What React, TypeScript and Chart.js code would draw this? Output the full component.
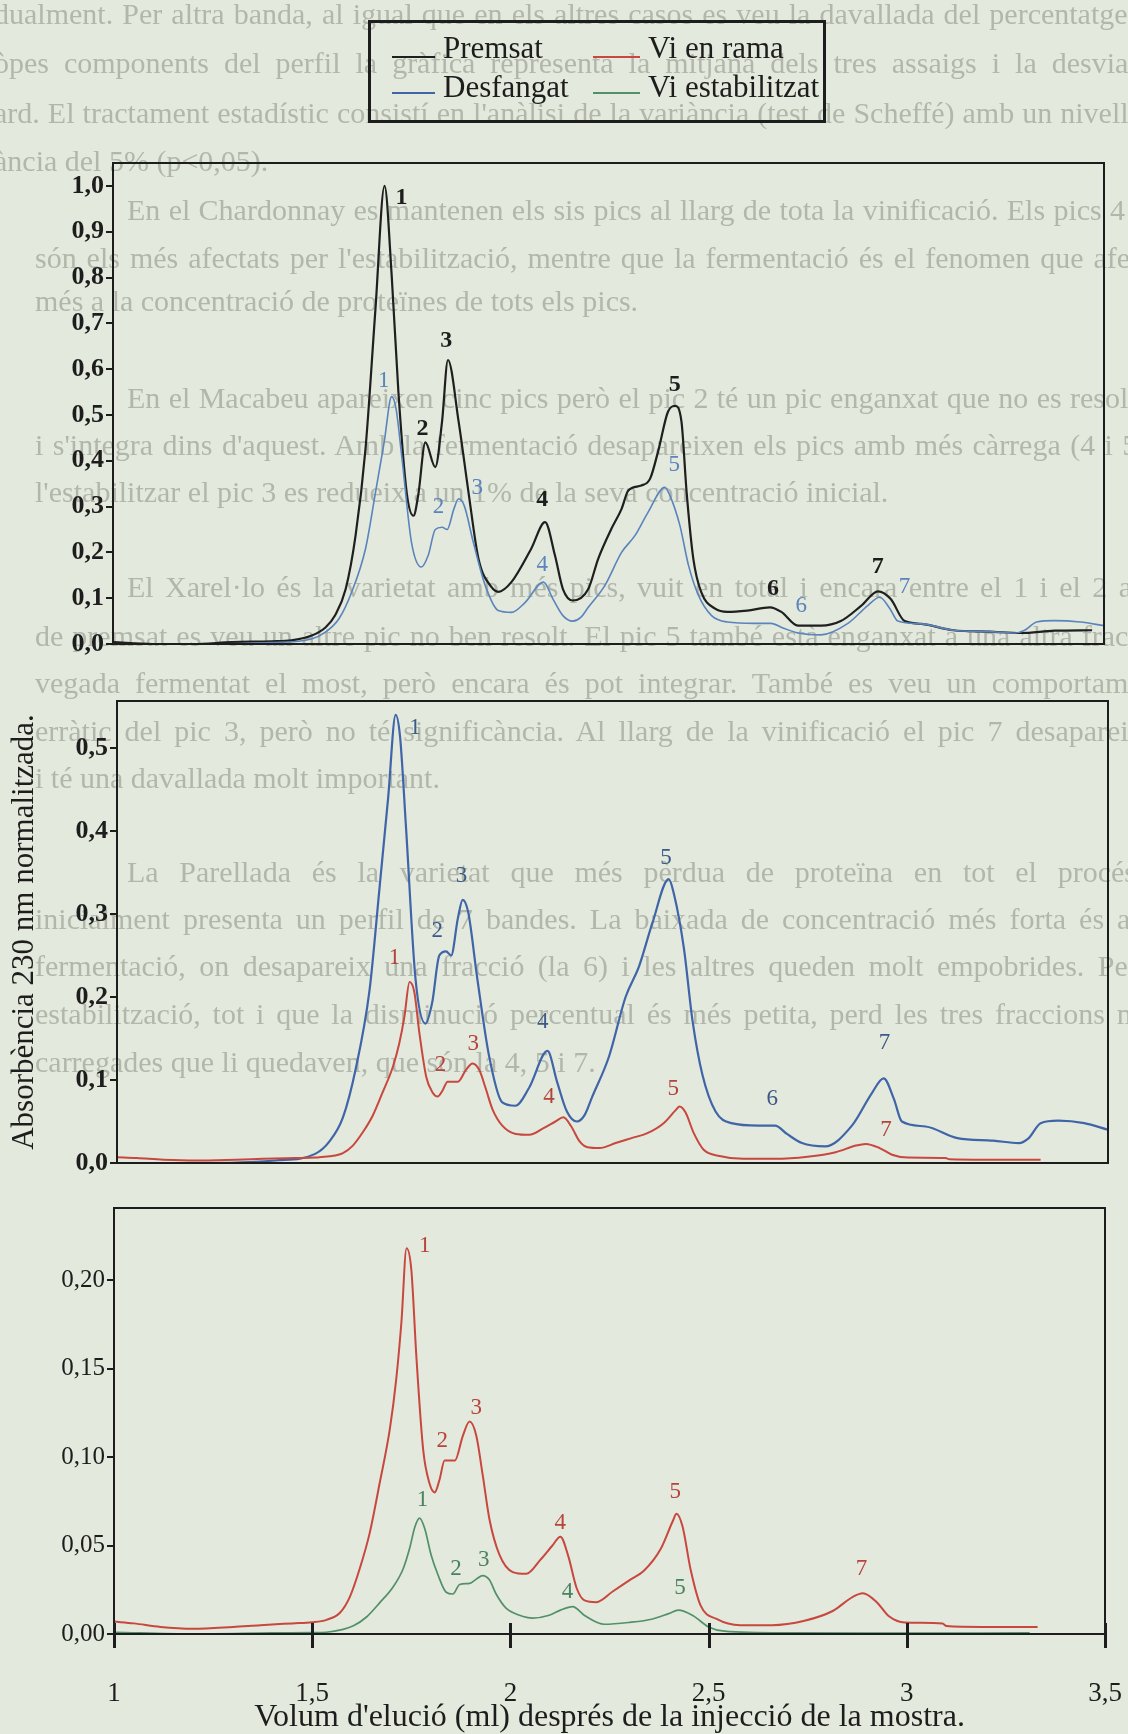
import { useEffect, useRef } from "react";
import { Chart, registerables } from "chart.js";

Chart.register(...registerables);

// Elution volume (ml) and normalised absorbance at 230 nm for each stage.
const premsatX = [1.0, 1.1, 1.2, 1.3, 1.4, 1.45, 1.5, 1.536, 1.56, 1.587, 1.612, 1.637, 1.662, 1.685, 1.703, 1.72, 1.741, 1.758, 1.77, 1.788, 1.813, 1.83, 1.845, 1.872, 1.897, 1.922, 1.955, 1.972, 2.005, 2.055, 2.09, 2.115, 2.135, 2.16, 2.199, 2.224, 2.257, 2.283, 2.3, 2.333, 2.355, 2.375, 2.4, 2.418, 2.434, 2.447, 2.464, 2.484, 2.519, 2.55, 2.6, 2.657, 2.686, 2.728, 2.786, 2.836, 2.887, 2.93, 2.962, 2.997, 3.04, 3.12, 3.21, 3.29, 3.375, 3.47];
const premsatY = [0.004, 0.0, 0.0, 0.004, 0.006, 0.008, 0.018, 0.036, 0.062, 0.12, 0.237, 0.426, 0.73, 1.0, 0.805, 0.55, 0.33, 0.28, 0.325, 0.44, 0.386, 0.485, 0.62, 0.485, 0.33, 0.186, 0.124, 0.114, 0.135, 0.208, 0.266, 0.193, 0.12, 0.095, 0.12, 0.186, 0.251, 0.295, 0.335, 0.346, 0.361, 0.42, 0.507, 0.52, 0.486, 0.332, 0.186, 0.113, 0.077, 0.07, 0.073, 0.08, 0.07, 0.04, 0.04, 0.05, 0.083, 0.115, 0.098, 0.05, 0.044, 0.03, 0.027, 0.024, 0.029, 0.03];

const desfangatX = [1.0, 1.2, 1.4, 1.5, 1.536, 1.57, 1.602, 1.637, 1.662, 1.684, 1.703, 1.714, 1.729, 1.753, 1.778, 1.795, 1.813, 1.83, 1.843, 1.86, 1.872, 1.886, 1.909, 1.939, 1.972, 2.005, 2.04, 2.086, 2.11, 2.135, 2.16, 2.18, 2.199, 2.241, 2.283, 2.317, 2.35, 2.392, 2.405, 2.43, 2.452, 2.477, 2.51, 2.55, 2.619, 2.66, 2.69, 2.728, 2.786, 2.854, 2.904, 2.934, 2.96, 2.98, 3.04, 3.12, 3.21, 3.275, 3.3, 3.33, 3.375, 3.44, 3.5];
const desfangatY = [0.0, 0.0, 0.003, 0.011, 0.026, 0.055, 0.113, 0.208, 0.33, 0.44, 0.54, 0.514, 0.405, 0.222, 0.168, 0.193, 0.25, 0.255, 0.25, 0.295, 0.317, 0.302, 0.222, 0.128, 0.073, 0.069, 0.091, 0.135, 0.098, 0.062, 0.05, 0.058, 0.08, 0.128, 0.2, 0.237, 0.288, 0.342, 0.324, 0.259, 0.171, 0.106, 0.062, 0.048, 0.045, 0.045, 0.035, 0.024, 0.02, 0.045, 0.084, 0.102, 0.077, 0.05, 0.044, 0.03, 0.027, 0.024, 0.03, 0.048, 0.051, 0.048, 0.04];

const viRamaX = [1.0, 1.05, 1.117, 1.2, 1.3, 1.369, 1.45, 1.5, 1.536, 1.57, 1.595, 1.62, 1.645, 1.67, 1.696, 1.712, 1.725, 1.738, 1.75, 1.763, 1.78, 1.796, 1.809, 1.821, 1.834, 1.86, 1.88, 1.897, 1.914, 1.93, 1.947, 1.972, 2.006, 2.04, 2.076, 2.106, 2.126, 2.146, 2.167, 2.187, 2.217, 2.258, 2.298, 2.338, 2.379, 2.41, 2.419, 2.434, 2.455, 2.48, 2.52, 2.58, 2.66, 2.742, 2.813, 2.864, 2.889, 2.924, 2.955, 2.995, 3.09, 3.1, 3.19, 3.33];
const viRamaY = [0.007, 0.006, 0.004, 0.003, 0.004, 0.005, 0.006, 0.0066, 0.008, 0.012, 0.021, 0.037, 0.057, 0.085, 0.116, 0.144, 0.176, 0.218, 0.206, 0.156, 0.104, 0.085, 0.08, 0.087, 0.098, 0.098, 0.112, 0.12, 0.112, 0.09, 0.065, 0.045, 0.035, 0.034, 0.042, 0.05, 0.055, 0.044, 0.026, 0.019, 0.018, 0.024, 0.03, 0.036, 0.048, 0.064, 0.068, 0.061, 0.036, 0.016, 0.0085, 0.005, 0.005, 0.0075, 0.013, 0.021, 0.023, 0.018, 0.01, 0.0065, 0.006, 0.0045, 0.004, 0.004];

const viEstabX = [1.0, 1.2, 1.4, 1.5, 1.536, 1.578, 1.604, 1.637, 1.67, 1.704, 1.729, 1.746, 1.759, 1.771, 1.784, 1.8, 1.817, 1.838, 1.855, 1.872, 1.897, 1.914, 1.93, 1.947, 1.964, 1.989, 2.023, 2.056, 2.098, 2.126, 2.157, 2.187, 2.237, 2.298, 2.359, 2.399, 2.424, 2.46, 2.5, 2.54, 2.7, 3.0, 3.31];
const viEstabY = [0.001, 0.0, 0.0006, 0.0008, 0.001, 0.0026, 0.0046, 0.0096, 0.0176, 0.0266, 0.0366, 0.0486, 0.0605, 0.0655, 0.0595, 0.0446, 0.0336, 0.0236, 0.0226, 0.028, 0.0286, 0.031, 0.033, 0.0306, 0.0226, 0.0146, 0.0106, 0.009, 0.0106, 0.0135, 0.0155, 0.0105, 0.0055, 0.0065, 0.0085, 0.0115, 0.0135, 0.0105, 0.004, 0.0016, 0.0006, 0.0005, 0.0006];

// Peak numbering, anchored in data units (ml, absorbance).
const allPeaks = ["1", "2", "3", "4", "5", "6", "7"];
const premsatPeakX = [1.728, 1.781, 1.841, 2.083, 2.417, 2.665, 2.929];
const premsatPeakY = [0.974, 0.469, 0.661, 0.314, 0.565, 0.121, 0.168];
const desfangatPeakX1 = [1.683, 1.821, 1.919, 2.083, 2.416, 2.736, 2.997];
const desfangatPeakY1 = [0.574, 0.299, 0.34, 0.172, 0.39, 0.084, 0.124];
const desfangatPeakX2 = [1.752, 1.808, 1.869, 2.074, 2.385, 2.653, 2.936];
const desfangatPeakY2 = [0.524, 0.28, 0.346, 0.17, 0.368, 0.077, 0.145];
const viRamaPeaks = ["1", "2", "3", "4", "5", "7"];
const viRamaPeakX2 = [1.7, 1.816, 1.899, 2.09, 2.403, 2.94];
const viRamaPeakY2 = [0.247, 0.118, 0.143, 0.079, 0.089, 0.04];
const viRamaPeakX3 = [1.784, 1.828, 1.914, 2.126, 2.416, 2.886];
const viRamaPeakY3 = [0.219, 0.109, 0.128, 0.063, 0.08, 0.0365];
const viEstabPeaks = ["1", "2", "3", "4", "5"];
const viEstabPeakX = [1.778, 1.863, 1.933, 2.144, 2.428];
const viEstabPeakY = [0.076, 0.037, 0.0416, 0.024, 0.026];

const legendNames = ["Premsat", "Vi en rama", "Desfangat", "Vi estabilitzat"];
const xTitle = "Volum d'elució (ml) després de la injecció de la mostra.";
const yTitle = "Absorbència 230 nm normalitzada.";

const SERIF = "'Liberation Serif', 'Times New Roman', serif";
const INK = "#1d1d1d";
const PAPER = "#e3e9dc";
const C_PREMSAT = "#1f1f1f";
const C_DESF_LIGHT = "#5a84bd";
const C_DESF = "#3f65a8";
const C_RAMA = "#c8473e";
const C_ESTAB = "#52906a";
const PAGE_W = 1128;

Chart.defaults.font.family = SERIF;

type Series = { x: number[]; y: number[]; color: string; width: number };
type PeakSet = { ids: string[]; x: number[]; y: number[]; color: string; font: string };
type Panel = {
  top: number;
  height: number;
  left: number;
  right: number;
  areaTop: number;
  areaBottom: number;
  yMax: number;
  yStep: number;
  yDigits: number;
  yFont: { size: number; weight: string };
  xAxis: boolean;
  yTitle: boolean;
  series: Series[];
  peaks: PeakSet[];
};

const PANELS: Panel[] = [
  {
    top: 140, height: 520, left: 113, right: 1104, areaTop: 163, areaBottom: 644,
    yMax: 1.05, yStep: 0.1, yDigits: 1, yFont: { size: 26, weight: "bold" },
    xAxis: false, yTitle: false,
    series: [
      { x: desfangatX, y: desfangatY, color: C_DESF_LIGHT, width: 1.6 },
      { x: premsatX, y: premsatY, color: C_PREMSAT, width: 2.2 },
    ],
    peaks: [
      { ids: allPeaks, x: premsatPeakX, y: premsatPeakY, color: INK, font: `bold 24px ${SERIF}` },
      { ids: allPeaks, x: desfangatPeakX1, y: desfangatPeakY1, color: C_DESF_LIGHT, font: `23px ${SERIF}` },
    ],
  },
  {
    top: 680, height: 500, left: 117, right: 1108, areaTop: 701, areaBottom: 1163,
    yMax: 0.5566, yStep: 0.1, yDigits: 1, yFont: { size: 26, weight: "bold" },
    xAxis: false, yTitle: true,
    series: [
      { x: viRamaX, y: viRamaY, color: C_RAMA, width: 2 },
      { x: desfangatX, y: desfangatY, color: C_DESF, width: 2.2 },
    ],
    peaks: [
      { ids: allPeaks, x: desfangatPeakX2, y: desfangatPeakY2, color: "#3d5a86", font: `23px ${SERIF}` },
      { ids: viRamaPeaks, x: viRamaPeakX2, y: viRamaPeakY2, color: "#b3433b", font: `23px ${SERIF}` },
    ],
  },
  {
    top: 1190, height: 544, left: 114, right: 1105, areaTop: 1208, areaBottom: 1634,
    yMax: 0.2407, yStep: 0.05, yDigits: 2, yFont: { size: 25, weight: "normal" },
    xAxis: true, yTitle: false,
    series: [
      { x: viEstabX, y: viEstabY, color: C_ESTAB, width: 1.7 },
      { x: viRamaX, y: viRamaY, color: C_RAMA, width: 2 },
    ],
    peaks: [
      { ids: viRamaPeaks, x: viRamaPeakX3, y: viRamaPeakY3, color: "#b9433a", font: `23px ${SERIF}` },
      { ids: viEstabPeaks, x: viEstabPeakX, y: viEstabPeakY, color: "#4a8160", font: `23px ${SERIF}` },
    ],
  },
];

// Faint page text behind the figure.
const pageLines: { t: string; x: number; y: number; j: boolean }[] = [
  { t: "dualment. Per altra banda, al igual que en els altres casos es veu la davallada del percentatge de proteïnes totals", x: -6, y: 14, j: true },
  { t: "òpes components del perfil la gràfica representa la mitjana dels tres assaigs i la desviació estàndard de cada", x: -6, y: 63, j: true },
  { t: "ard. El tractament estadístic consistí en l'anàlisi de la variància (test de Scheffé) amb un nivell de significació", x: -6, y: 113, j: true },
  { t: "ància del 5% (p<0,05).", x: -6, y: 161, j: false },
  { t: "En el Chardonnay es mantenen els sis pics al llarg de tota la vinificació. Els pics 4 i 5 són", x: 127, y: 210, j: true },
  { t: "són els més afectats per l'estabilització, mentre que la fermentació és el fenomen que afecta", x: 35, y: 258, j: true },
  { t: "més a la concentració de proteïnes de tots els pics.", x: 35, y: 301, j: false },
  { t: "En el Macabeu apareixen cinc pics però el pic 2 té un pic enganxat que no es resol bé", x: 127, y: 398, j: true },
  { t: "i s'integra dins d'aquest. Amb la fermentació desapareixen els pics amb més càrrega (4 i 5) i en", x: 35, y: 445, j: true },
  { t: "l'estabilitzar el pic 3 es redueix a un 1% de la seva concentració inicial.", x: 35, y: 492, j: false },
  { t: "El Xarel·lo és la varietat amb més pics, vuit en total i encara entre el 1 i el 2 a la mostra", x: 127, y: 587, j: true },
  { t: "de premsat es veu un altre pic no ben resolt. El pic 5 també està enganxat a una altra fracció", x: 35, y: 636, j: true },
  { t: "vegada fermentat el most, però encara és pot integrar. També es veu un comportament", x: 35, y: 683, j: true },
  { t: "erràtic del pic 3, però no té significància. Al llarg de la vinificació el pic 7 desapareix i", x: 35, y: 731, j: true },
  { t: "i té una davallada molt important.", x: 35, y: 778, j: false },
  { t: "La Parellada és la varietat que més pèrdua de proteïna en tot el procés i", x: 127, y: 872, j: true },
  { t: "inicialment presenta un perfil de 7 bandes. La baixada de concentració més forta és a la", x: 35, y: 919, j: true },
  { t: "fermentació, on desapareix una fracció (la 6) i les altres queden molt empobrides. Per l'", x: 35, y: 966, j: true },
  { t: "estabilització, tot i que la disminució percentual és més petita, perd les tres fraccions més", x: 35, y: 1014, j: true },
  { t: "carregades que li quedaven, que són la 4, 5 i 7.", x: 35, y: 1062, j: false },
];

const comma = (v: number, d: number) => v.toFixed(d).replace(".", ",");

function buildPanel(canvas: HTMLCanvasElement, p: Panel): Chart {
  const canvasBottom = p.top + p.height;

  // Box round the plotting area.
  const framePlugin = {
    id: "frame",
    afterDatasetsDraw(chart: Chart) {
      const { ctx, chartArea: a } = chart;
      ctx.save();
      ctx.strokeStyle = INK;
      ctx.lineWidth = 2;
      ctx.strokeRect(a.left, a.top, a.right - a.left, a.bottom - a.top);
      ctx.restore();
    },
  };

  // Peak numbers next to each trace.
  const peakPlugin = {
    id: "peakNumbers",
    afterDatasetsDraw(chart: Chart) {
      const { ctx } = chart;
      const xs = chart.scales.x;
      const ys = chart.scales.y;
      ctx.save();
      ctx.textAlign = "center";
      ctx.textBaseline = "middle";
      for (const set of p.peaks) {
        ctx.font = set.font;
        ctx.fillStyle = set.color;
        set.ids.forEach((id, i) => {
          ctx.fillText(id, xs.getPixelForValue(set.x[i]), ys.getPixelForValue(set.y[i]));
        });
      }
      ctx.restore();
    },
  };

  // Heavy tick marks crossing the elution-volume axis.
  const crossTicks = {
    id: "crossTicks",
    afterDraw(chart: Chart) {
      if (!p.xAxis) return;
      const { ctx, chartArea: a } = chart;
      const xs = chart.scales.x;
      ctx.save();
      ctx.strokeStyle = INK;
      ctx.lineWidth = 3;
      for (const t of xs.ticks) {
        const px = Math.round(xs.getPixelForValue(t.value)) + 0.5;
        ctx.beginPath();
        ctx.moveTo(px, a.bottom - 11);
        ctx.lineTo(px, a.bottom + 14);
        ctx.stroke();
      }
      ctx.restore();
    },
  };

  return new Chart(canvas, {
    type: "line",
    data: {
      datasets: p.series.map((s) => ({
        data: s.x.map((x, i) => ({ x, y: s.y[i] })),
        borderColor: s.color,
        borderWidth: s.width,
        pointRadius: 0,
        fill: false,
        cubicInterpolationMode: "monotone" as const,
      })),
    },
    options: {
      responsive: false,
      animation: false,
      devicePixelRatio: 1,
      layout: {
        autoPadding: false,
        padding: {
          left: 0,
          top: p.areaTop - p.top,
          right: PAGE_W - p.right,
          bottom: p.xAxis ? 0 : canvasBottom - p.areaBottom,
        },
      },
      plugins: { legend: { display: false }, tooltip: { enabled: false } },
      scales: {
        x: {
          type: "linear",
          min: 1,
          max: 3.5,
          display: p.xAxis,
          grid: { display: false, drawTicks: false },
          border: { display: false },
          ticks: {
            stepSize: 0.5,
            padding: 44,
            color: INK,
            maxRotation: 0,
            autoSkip: false,
            font: { family: SERIF, size: 27 },
            callback: (v: any) => comma(Number(v), Number(v) % 1 === 0 ? 0 : 1),
          },
          title: {
            display: p.xAxis,
            text: xTitle,
            color: INK,
            font: { family: SERIF, size: 32 },
            padding: { top: 0, bottom: -3 },
          },
          ...(p.xAxis
            ? {
                afterFit: (s: any) => {
                  s.height = canvasBottom - p.areaBottom;
                  s.paddingLeft = 0;
                  s.paddingRight = 0;
                },
              }
            : {}),
        },
        y: {
          type: "linear",
          min: 0,
          max: p.yMax,
          grid: { drawOnChartArea: false, drawTicks: true, tickLength: 7, color: INK, lineWidth: 2 },
          border: { display: false },
          ticks: {
            stepSize: p.yStep,
            includeBounds: false,
            padding: 2,
            color: INK,
            font: { family: SERIF, size: p.yFont.size, weight: p.yFont.weight as any },
            callback: (v: any) => comma(Number(v), p.yDigits),
          },
          title: {
            display: p.yTitle,
            text: yTitle,
            color: INK,
            font: { family: SERIF, size: 31 },
            padding: { top: 6, bottom: 0 },
          },
          afterFit: (s: any) => {
            s.width = p.left;
            s.paddingTop = 0;
            s.paddingBottom = 0;
          },
        },
      },
    } as any,
    plugins: [framePlugin, peakPlugin, crossTicks],
  });
}

const legendColors = [C_PREMSAT, C_RAMA, C_DESF, C_ESTAB];

export default function App() {
  const c1 = useRef<HTMLCanvasElement>(null);
  const c2 = useRef<HTMLCanvasElement>(null);
  const c3 = useRef<HTMLCanvasElement>(null);

  useEffect(() => {
    const canvases = [c1.current, c2.current, c3.current];
    const charts = PANELS.map((p, i) => buildPanel(canvases[i] as HTMLCanvasElement, p));
    return () => charts.forEach((c) => c.destroy());
  }, []);

  const refs = [c1, c2, c3];

  return (
    <div
      style={{
        position: "absolute",
        left: 0,
        top: 0,
        width: PAGE_W,
        height: 1734,
        overflow: "hidden",
        background: PAPER,
        fontFamily: SERIF,
      }}
    >
      <div style={{ position: "absolute", inset: 0, filter: "blur(0.6px)" }}>
        {pageLines.map((l, i) => (
          <div
            key={i}
            style={{
              position: "absolute",
              left: l.x,
              top: l.y - 18,
              width: l.j ? 1165 - l.x : 1200,
              height: 36,
              overflow: "hidden",
              fontSize: 30,
              lineHeight: "36px",
              color: "#b2b7ab",
              textAlign: l.j ? "justify" : "left",
              textAlignLast: l.j ? "justify" : "left",
            }}
          >
            {l.t}
          </div>
        ))}
      </div>

      {PANELS.map((p, i) => (
        <canvas
          key={i}
          ref={refs[i]}
          width={PAGE_W}
          height={p.height}
          style={{ position: "absolute", left: 0, top: p.top, width: PAGE_W, height: p.height }}
        />
      ))}

      <div
        style={{
          position: "absolute",
          left: 368,
          top: 20,
          width: 458,
          height: 103,
          boxSizing: "border-box",
          border: `3px solid ${INK}`,
        }}
      >
        {legendNames.map((name, i) => {
          const col = i % 2;
          const row = Math.floor(i / 2);
          const swLeft = col === 0 ? 21 : 222;
          const swWidth = col === 0 ? 43 : 47;
          const txLeft = col === 0 ? 72 : 277;
          const baseTop = row === 0 ? 9 : 48;
          const lineTop = row === 0 ? 33 : 69;
          return (
            <div key={name}>
              <div
                style={{
                  position: "absolute",
                  left: swLeft,
                  top: lineTop,
                  width: swWidth,
                  height: 2,
                  background: legendColors[i],
                }}
              />
              <div
                style={{
                  position: "absolute",
                  left: txLeft,
                  top: baseTop,
                  fontSize: 31,
                  lineHeight: "31px",
                  color: INK,
                  whiteSpace: "nowrap",
                }}
              >
                {name}
              </div>
            </div>
          );
        })}
      </div>
    </div>
  );
}
